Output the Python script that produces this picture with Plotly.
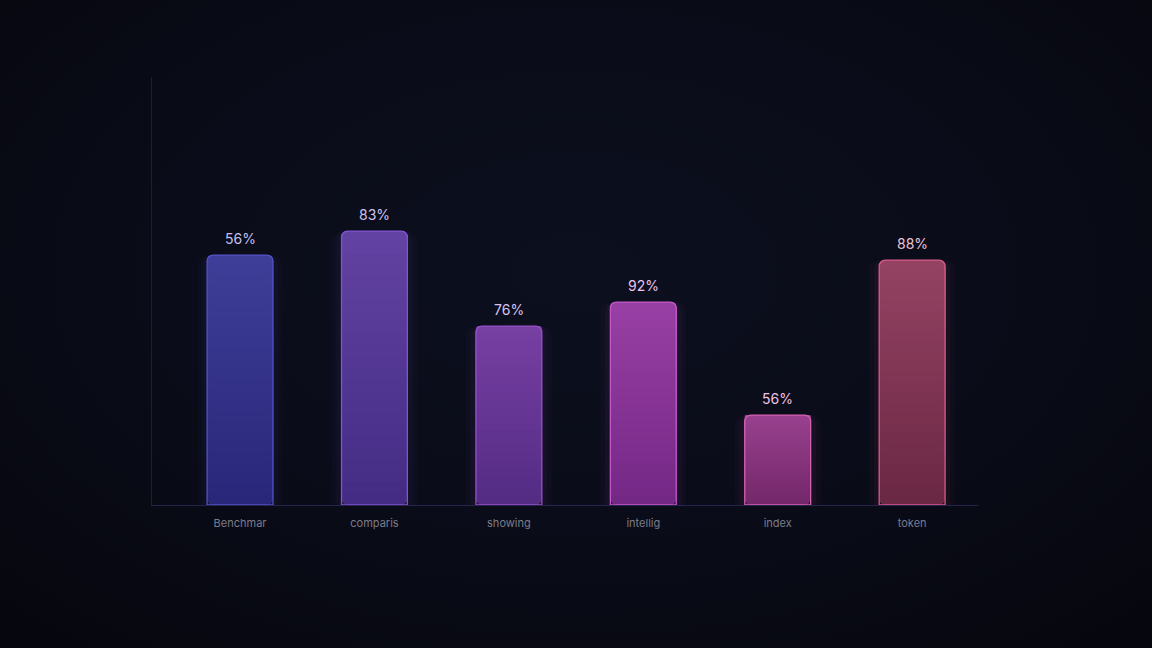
import plotly.graph_objects as go

categories = ["Benchmar", "comparis", "showing", "intellig", "index", "token"]
heights = [58.4, 64.0, 41.8, 47.4, 21.0, 57.2]
labels = ["56%", "83%", "76%", "92%", "56%", "88%"]

top_colors = ["#3e3e98", "#6242a2", "#763fa2", "#983fa4", "#98408e", "#944262"]
bottom_colors = ["#28277a", "#442c84", "#542c84", "#742886", "#74286a", "#6a2844"]
line_colors = ["#5552c8", "#7e56d0", "#9850c8", "#c458c8", "#d460b0", "#d85a8a"]
label_colors = ["#c2c0ee", "#d0c2ee", "#dac2ee", "#e8c2ee", "#eec2e6", "#eec2d6"]


def hex2rgb(h):
    h = h.lstrip("#")
    return tuple(int(h[i:i + 2], 16) for i in (0, 2, 4))


def mix(c1, c2, t):
    a, b = hex2rgb(c1), hex2rgb(c2)
    return "rgb(%d,%d,%d)" % tuple(round(a[k] + (b[k] - a[k]) * t) for k in range(3))


def rgba(h, a):
    r, g, b = hex2rgb(h)
    return "rgba(%d,%d,%d,%.3f)" % (r, g, b, a)


fig = go.Figure()

BAR_W = 0.49
RADIUS = 6

# glow layers
for w, a in [(0.64, 0.03), (0.57, 0.045)]:
    fig.add_trace(go.Bar(
        x=categories, y=heights, width=w,
        marker=dict(color=[rgba(c, a) for c in line_colors], line=dict(width=0), cornerradius=RADIUS + 4),
        hoverinfo="skip", showlegend=False,
    ))

# gradient fill layers
N = 24
for i in range(N):
    t = i / (N - 1)
    f = i / N
    fig.add_trace(go.Bar(
        x=categories,
        y=[h * (1 - f) for h in heights],
        base=[h * f for h in heights],
        width=BAR_W,
        marker=dict(color=[mix(b, tp, t) for b, tp in zip(bottom_colors, top_colors)],
                    line=dict(width=0), cornerradius=RADIUS),
        hoverinfo="skip", showlegend=False,
    ))

# outline
fig.add_trace(go.Bar(
    x=categories, y=heights, width=BAR_W,
    marker=dict(color="rgba(0,0,0,0)", line=dict(color=line_colors, width=1.3), cornerradius=RADIUS),
    showlegend=False,
))

for c, h, lab, col in zip(categories, heights, labels, label_colors):
    fig.add_annotation(x=c, y=h, text=lab, showarrow=False, yanchor="bottom", yshift=6,
                       font=dict(family="Inter, sans-serif", size=14, color=col))

fig.update_layout(
    width=1152, height=648,
    barmode="overlay",
    paper_bgcolor="rgba(0,0,0,0)",
    plot_bgcolor="rgba(0,0,0,0)",
    margin=dict(l=152, r=174, t=77, b=143),
    xaxis=dict(range=[-0.655, 5.49], showgrid=False, zeroline=False, showline=True,
               linecolor="#24244e", linewidth=1, ticks="", ticklabelstandoff=8,
               tickfont=dict(family="Inter, sans-serif", size=11, color="#7c7c8a")),
    yaxis=dict(range=[0, 100], showgrid=False, zeroline=False, showline=True,
               linecolor="#1c1d3c", linewidth=1, showticklabels=False, ticks=""),
    showlegend=False,
)

post = (
    "document.documentElement.style.margin='0';"
    "document.body.style.margin='0';"
    "document.body.style.overflow='hidden';"
    "document.body.style.background='radial-gradient(ellipse 70% 75% at 50% 42%, #0c0f1e 0%, #0a0c19 50%, #06070e 100%)';"
    "document.body.style.minHeight='100vh';"
)

fig.write_html("out.html", post_script=post, config={"displayModeBar": False})
